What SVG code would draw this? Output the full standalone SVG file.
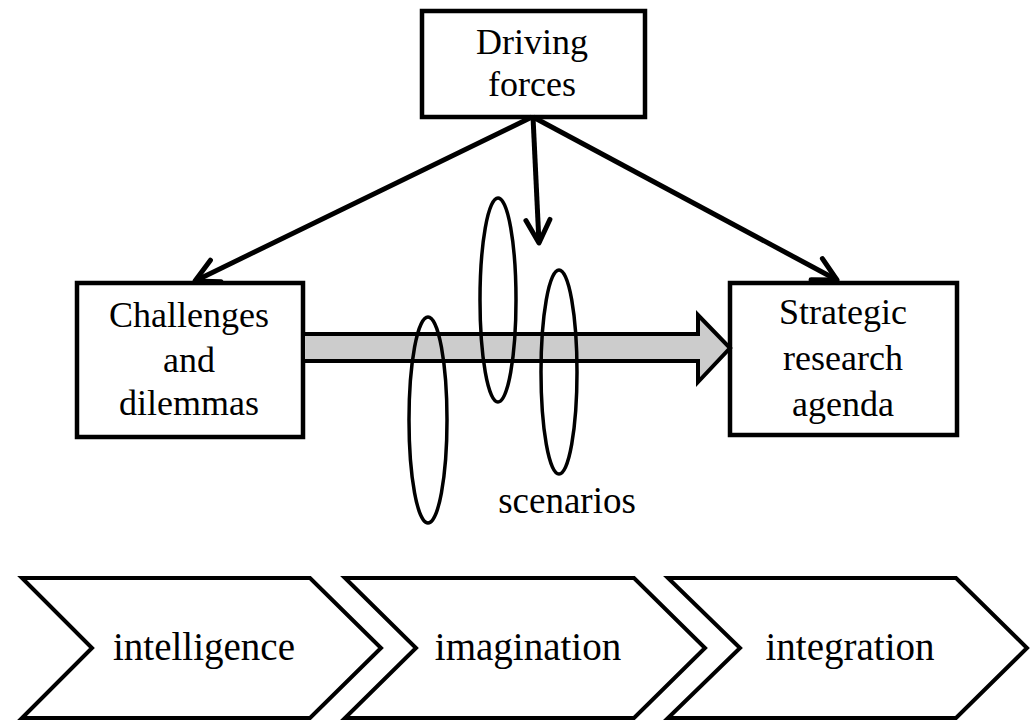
<svg xmlns="http://www.w3.org/2000/svg" width="1035" height="720" viewBox="0 0 1035 720">
<style>
  .box { fill: #ffffff; stroke: #000000; stroke-width: 4.5; }
  .lbl { font-family: 'Liberation Serif', 'Times New Roman', serif; font-size: 36px; fill: #000000; text-anchor: middle; }
  .big { font-size: 39px; }
  .conn { stroke: #000000; stroke-width: 5; fill: none; }
  .ell { fill: none; stroke: #000000; stroke-width: 3.5; }
  .chev { fill: #ffffff; stroke: #000000; stroke-width: 4; stroke-linejoin: miter; }
</style>
<defs>
  <marker id="open" markerUnits="userSpaceOnUse" viewBox="-30 -16 34 32" refX="0" refY="0" markerWidth="34" markerHeight="32" orient="auto">
    <path d="M-23,-12 L0,0 L-23,12" fill="none" stroke="#000" stroke-width="5" stroke-linejoin="round" stroke-linecap="round"/>
  </marker>
</defs>
<rect width="1035" height="720" fill="#ffffff"/>

<g id="driving-forces">
  <rect class="box" x="422" y="11" width="223" height="106"/>
  <text class="lbl" x="532" y="54">Driving</text>
  <text class="lbl" x="532" y="96">forces</text>
</g>

<g id="challenges">
  <rect class="box" x="77" y="283" width="226" height="154"/>
  <text class="lbl" x="189" y="327">Challenges</text>
  <text class="lbl" x="189" y="372">and</text>
  <text class="lbl" x="189" y="415">dilemmas</text>
</g>

<g id="strategic">
  <rect class="box" x="730" y="283" width="227" height="152"/>
  <text class="lbl" x="843" y="324">Strategic</text>
  <text class="lbl" x="843" y="370">research</text>
  <text class="lbl" x="843" y="416">agenda</text>
</g>

<g id="connectors">
  <line class="conn" x1="532" y1="117" x2="195" y2="281" marker-end="url(#open)"/>
  <line class="conn" x1="533" y1="117" x2="539" y2="243" marker-end="url(#open)"/>
  <line class="conn" x1="533" y1="117" x2="837" y2="280" marker-end="url(#open)"/>
  <polygon id="flow-arrow" points="303,334 698,334 698,315 730,348 698,382 698,361 303,361" fill="#cccccc" stroke="#000000" stroke-width="4" stroke-linejoin="miter"/>
</g>

<g id="scenarios">
  <ellipse class="ell" cx="428" cy="420" rx="19" ry="103"/>
  <ellipse class="ell" cx="498" cy="300" rx="18" ry="102"/>
  <ellipse class="ell" cx="559" cy="372" rx="18" ry="102"/>
  <text class="lbl" x="567" y="513" style="font-size:37px">scenarios</text>
</g>

<g id="intelligence">
  <polygon class="chev" points="22,578 310,578 381,648 310,718 22,718 92,648"/>
  <text class="lbl big" x="204" y="660">intelligence</text>
</g>
<g id="imagination">
  <polygon class="chev" points="345,578 634,578 705,648 634,718 345,718 416,648"/>
  <text class="lbl big" x="528" y="660">imagination</text>
</g>
<g id="integration">
  <polygon class="chev" points="668,578 956,578 1027,648 956,718 668,718 740,648"/>
  <text class="lbl big" x="850" y="660">integration</text>
</g>
</svg>
